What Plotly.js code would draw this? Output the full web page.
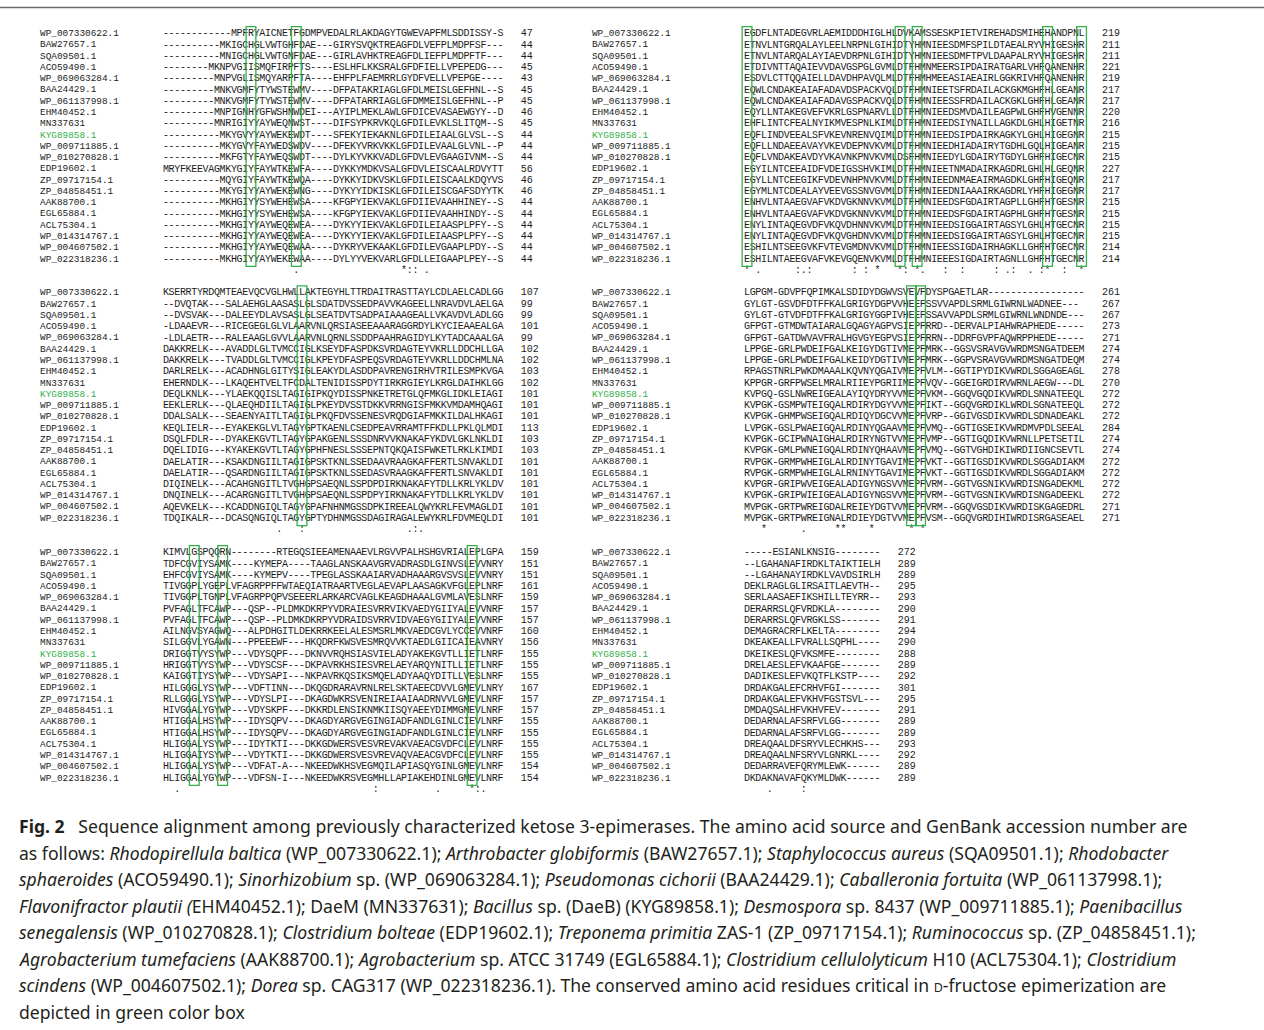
<!DOCTYPE html>
<html><head><meta charset="utf-8">
<script src="https://cdn.plot.ly/plotly-3.0.1.min.js"></script>
<style>html,body{margin:0;padding:0;background:#fff;} #chart{width:1264px;height:1030px;}</style>
</head><body><div id="chart"></div><script>
// ---------------- DATA ----------------
const names = ['WP_007330622.1','BAW27657.1','SQA09501.1','ACO59490.1','WP_069063284.1','BAA24429.1',
  'WP_061137998.1','EHM40452.1','MN337631','KYG89858.1','WP_009711885.1','WP_010270828.1','EDP19602.1',
  'ZP_09717154.1','ZP_04858451.1','AAK88700.1','EGL65884.1','ACL75304.1','WP_014314767.1','WP_004607502.1','WP_022318236.1'];
const highlightName = 'KYG89858.1';

// block 1 (top left)
const seq1 = [
'------------MPFRYAICNETFGDMPVEDALRLAKDAGYTGWEVAPFMLSDDISSY-S',
'----------MKIGCHGLVWTGHFDAE---GIRYSVQKTREAGFDLVEFPLMDPFSF---',
'----------MNIGCHGLVWTGNFDAE---GIRLAVHKTREAGFDLIEFPLMDPFTF---',
'--------MKNPVGIISMQFIRPFTS----ESLHFLKKSRALGFDFIELLVPEPEDG---',
'---------MNPVGLISMQYARPFTA----EHFPLFAEMRRLGYDFVELLVPEPGE----',
'---------MNKVGMFYTYWSTEWMV----DFPATAKRIAGLGFDLMEISLGEFHNL--S',
'---------MNKVGMFYTYWSTEWMV----DFPATARRIAGLGFDMMEISLGEFHNL--P',
'---------MNPIGNHYGFWSHNWDEI---AYIPLMEKLAWLGFDICEVASAEWGYY--D',
'---------MNRIGIYYAYWEQNWST----DIFSYPKRVKQLGFDILEVKLSLITQM--S',
'----------MKYGVYYAYWEKEWDT----SFEKYIEKAKNLGFDILEIAALGLVSL--S',
'----------MKYGVYFAYWEDSWDV----DFEKYVRKVKKLGFDILEVAALGLVNL--P',
'----------MKFGTYFAYWEQSWDT----DYLKYVKKVADLGFDVLEVGAAGIVNM--S',
'MRYFKEEVAGMKYGIYFAYWTKEWFA----DYKKYMDKVSALGFDVLEISCAALRDVYTT',
'----------MQYGIYFAYWTKEWQA----DYKKYIDKVSKLGFDILEISCAALKDQYVS',
'----------MKYGIYYAYWEKEWNG----DYKYYIDKISKLGFDILEISCGAFSDYYTK',
'----------MKHGIYYSYWEHEWSA----KFGPYIEKVAKLGFDIIEVAAHHINEY--S',
'----------MKHGIYYSYWEHEWSA----KFGPYIEKVAKLGFDIIEVAAHHINDY--S',
'----------MKHGIYYAYWEQEWEA----DYKYYIEKVAKLGFDILEIAASPLPFY--S',
'----------MKHGIYYAYWEQEWEA----DYKYYIEKVAKLGFDILEIAASPLPFY--S',
'----------MKHGIYYAYWEQEWAA----DYKRYVEKAAKLGFDILEVGAAPLPDY--S',
'----------MKHGIYYAYWEKEWAA----DYLYYVEKVARLGFDLLEIGAAPLPEY--S'];
const end1 = [47,44,44,45,43,45,45,46,45,44,44,44,56,46,46,44,44,44,44,44,44];
const box1 = [16, 24];
const consCols1 = [24, 43, 44, 45, 47];
const consMarks1 = ['.', '*', ':', ':', '.'];

// block 2 (middle left)
const seq2 = [
'KSERRTYRDQMTEAEVQCVGLHWLLAKTEGYHLTTRDAITRASTTAYLCDLAELCADLGG',
'--DVQTAK---SALAEHGLAASASLGLSDATDVSSEDPAVVKAGEELLNRAVDVLAELGA',
'--DVSVAK---DALEEYDLAVSASLGLSEATDVTSADPAIAAAGEALLVKAVDVLADLGG',
'-LDAAEVR---RICEGEGLGLVLAARVNLQRSIASEEAAARAGGRDYLKYCIEAAEALGA',
'-LDLAETR---RALEAAGLGVVLAARVNLQRNLSSDDPAAHRAGIDYLKYTADCAAALGA',
'DAKKRELK---AVADDLGLTVMCCIGLKSEYDFASPDKSVRDAGTEYVKRLLDDCHLLGA',
'DAKKRELK---TVADDLGLTVMCCIGLKPEYDFASPEQSVRDAGTEYVKRLLDDCHMLNA',
'DARLRELK---ACADHNGLGITYSIGLEAKYDLASDDPAVRENGIRHVTRILESMPKVGA',
'EHERNDLK---LKAQEHTVELTFCDALTENIDISSPDYTIRKRGIEYLKRGLDAIHKLGG',
'DEQLKNLK---YLAEKQQISLTAGIGIPKQYDISSPNKETRETGLQFMKGLIDKLEIAGI',
'EEKLERLK---QLAEQHDIILTAGIGLPKEYDVSSTDKKVRRNGISFMKKVMDAMHQAGI',
'DDALSALK---SEAENYAITLTAGIGLPKQFDVSSENESVRQDGIAFMKKILDALHKAGI',
'KEQLIELR---EYAKEKGLVLTAGYGPTKAENLCSEDPEAVRRAMTFFKDLLPKLQLMDI',
'DSQLFDLR---DYAKEKGVTLTAGYGPAKGENLSSSDNRVVKNAKAFYKDVLGKLNKLDI',
'DQELIDIG---KYAKEKGVTLTAGYGPHFNESLSSSEPNTQKQAISFWKETLRKLKIMDI',
'DAELATIR---KSAKDNGIILTAGIGPSKTKNLSSEDAAVRAAGKAFFERTLSNVAKLDI',
'DAELATIR---QSARDNGIILTAGIGPSKTKNLSSEDASVRAAGKAFFERTLSNVAKLDI',
'DIQINELK---ACAHGNGITLTVGHGPSAEQNLSSPDPDIRKNAKAFYTDLLKRLYKLDV',
'DNQINELK---ACARGNGITLTVGHGPSAEQNLSSPDPYIRKNAKAFYTDLLKRLYKLDV',
'AQEVKELK---KCADDNGIQLTAGYGPAFNHNMGSSDPKIREEALQWYKRLFEVMAGLDI',
'TDQIKALR---DCASQNGIQLTAGYGPTYDHNMGSSDAGIRAGALEWYKRLFDVMEQLDI'];
const end2 = [107,99,99,101,99,102,102,103,102,101,101,101,113,103,103,101,101,101,101,101,101];
const box2 = [25];
const consCols2 = [21, 25, 44, 45, 46];
const consMarks2 = ['.', ':', '.', ':', '.'];

// block 3 (bottom left)
const seq3 = [
'KIMVLGSPQQRN--------RTEGQSIEEAMENAAEVLRGVVPALHSHGVRIALEPLGPA',
'TDFCGVIYSAMK----KYMEPA----TAAGLANSKAAVGRVADRASDLGINVSLEVVNRY',
'EHFCGVIYSAMK----KYMEPV----TPEGLASSKAAIARVADHAAARGVSVSLEVVNRY',
'TIVGGPLYGEPLVFAGRPPFFWTAEQIATRAARTVEGLAEVAPLAASAGKVFGLEPLNRF',
'TIVGGPLTGNPLVFAGRPPQPVSEEERLARKARCVAGLKEAGDHAAALGVMLAVESLNRF',
'PVFAGLTFCAWP---QSP--PLDMKDKRPYVDRAIESVRRVIKVAEDYGIIYALEVVNRF',
'PVFAGLTFCAWP---QSP--PLDMKDKRPYVDRAIDSVRRVIDVAEGYGIIYALEVVNRF',
'AILNGVSYAGWQ---ALPDHGITLDEKRRKEELALESMSRLMKVAEDCGVLYCCEVVNRF',
'SILGGVLYGAWN---PPEEEWF---HKQDRFKWSVESMRQVVKTAEDLGIICAIEAVNRY',
'DRIGGTVYSYWP---VDYSQPF---DKNVVRQHSIASVIELADYAKEKGVTLLIETLNRF',
'HRIGGTVYSYWP---VDYSCSF---DKPAVRKHSIESVRELAEYARQYNITLLIETLNRF',
'KAIGGTIYSYWP---VDYSAPI---NKPAVRKQSIKSMQELADYAAQYDITLLVESLNRF',
'HILGGGLYSYWP---VDFTINN---DKQGDRARAVRNLRELSKTAEECDVVLGMEVLNRY',
'RLLGGGLYSYWP---VDYSLPI---DKAGDWKRSVENIREIAAIAADRNVVLGMEVLNRF',
'HIVGGALYGYWP---VDYSKPF---DKKRDLENSIKNMKIISQYAEEYDIMMGMEVLNRF',
'HTIGGALHSYWP---IDYSQPV---DKAGDYARGVEGINGIADFANDLGINLCIEVLNRF',
'HTIGGALHSYWP---IDYSQPV---DKAGDYARGVEGINGIADFANDLGINLCIEVLNRF',
'HLIGGALYSYWP---IDYTKTI---DKKGDWERSVESVREVAKVAEACGVDFCLEVLNRF',
'HLIGGAIYSYWP---VDYTKTI---DKKGDWERSVESVREVAQVAEACGVDFCLEVLNRF',
'HLIGGALYSYWP---VDFAT-A---NKEEDWKHSVEGMQILAPIASQYGINLGMEVLNRF',
'HLIGGALYGYWP---VDFSN-I---NKEEDWKRSVEGMHLLAPIAKEHDINLGMEVLNRF'];
const end3 = [159,151,151,161,159,157,157,160,156,155,155,155,167,157,157,155,155,155,155,154,154];
const box3 = [6, 11, 55];
const consCols3 = [3, 38, 49, 55, 56, 57];
const consMarks3 = ['.', ':', '.', '*', ':', '.'];

// block 4 (top right)
const seq4 = [
'EGDFLNTADEGVRLAEMIDDDHIGLHLDVKAMSSESKPIETVIREHADSMIHEHANDPNL',
'ETNVLNTGRQALAYLEELNRPNLGIHIDTYHMNIEESDMFSPILDTAEALRYVHIGESHR',
'ETNVLNTARQALAYIAEVDRPNLGIHIDTYHMNIEESDMFTPVLDAAPALRYVHIGESHR',
'ETDIVNTTAQAIEVVDAVGSPGLGVMLDTFHMNMEERSIPDAIRATGARLVHFQANENHR',
'ESDVLCTTQQAIELLDAVDHPAVQLMLDTFHMHMEEASIAEAIRLGGKRIVHFQANENHR',
'EQWLCNDAKEAIAFADAVDSPACKVQLDTFHMNIEETSFRDAILACKGKMGHFHLGEANR',
'EQWLCNDAKEAIAFADAVGSPACKVQLDTFHMNIEESSFRDAILACKGKLGHFHLGEANR',
'EQYLLNTAKEGVEFVKRLGSPNARVLLDTFHMNIEEDSMVDAILEAGPWLGHFHVGENNR',
'EHFLINTCFEALNYIKMVESPNLKIMLDTFHMNIEEDSIYNAILLAGKDLGHLHIGETNR',
'EQFLINDVEEALSFVKEVNRENVQIMLDTFHMNIEEDSIPDAIRKAGKYLGHLHIGEGNR',
'EQFLLNDAEEAVAYVKEVDEPNVKVMLDTFHMNIEEDHIADAIRYTGDHLGQLHIGEANR',
'EQFLVNDAKEAVDYVKAVNKPNVKVMLDSFHMNIEEDYLGDAIRYTGDYLGHFHIGECNR',
'EGYILNTCEEAIDFVDEIGSSHVKIMLDTFHMNIEETNMADAIRKAGDRLGHLHLGEQNR',
'EGYLLNTCEEGIKFVDEVNHPNVKVMLDTFHMNIEEDNMAEAIRMAGDKLGHFHIGEQNR',
'EGYMLNTCDEALAYVEEVGSSNVGVMLDTFHMNIEEDNIAAAIRKAGDRLYHFHIGEGNR',
'ENHVLNTAAEGVAFVKDVGKNNVKVMLDTFHMNIEEDSFGDAIRTAGPLLGHFHTGESNR',
'ENHVLNTAAEGVAFVKDVGKNNVKVMLDTFHMNIEEDSFGDAIRTAGPHLGHFHTGESNR',
'ENYLINTAQEGVDFVKQVDHNNVKVMLDTFHMNIEEDSIGGAIRTAGSYLGHLHTGECNR',
'ENYLINTAQEGVDFVKQVGHDNVKVMLDTFHMNIEEDSIGGAIRTAGSYLGHLHTGECNR',
'ESHILNTSEEGVKFVTEVGMDNVKVMLDTFHMNIEESSIGDAIRHAGKLLGHFHTGECNR',
'ESHILNTAEEGVAFVKEVGQENVKVMLDTFHMNIEEESIGDAIRTAGNLLGHFHTGECNR'];
const end4 = [219,211,211,221,219,217,217,220,216,215,215,215,227,217,217,215,215,215,215,214,214];
const box4 = [1, 28, 31, 54, 60];
const consCols4 = [1, 3, 10, 11, 12, 20, 22, 24, 28, 29, 31, 32, 36, 39, 45, 47, 48, 51, 53, 54, 57, 60];
const consMarks4 = ['*', '.', ':', '.', ':', ':', ':', '*', '*', ':', '*', '.', ':', ':', ':', '.', ':', '.', ':', '*', ':', '*'];

// block 5 (middle right)
const seq5 = [
'LGPGM-GDVPFQPIMKALSDIDYDGWVSVEVFDYSPGAETLAR-----------------',
'GYLGT-GSVDFDTFFKALGRIGYDGPVVHEEFSSVVAPDLSRMLGIWRNLWADNEE---',
'GYLGT-GTVDFDTFFKALGRIGYGGPIVHEEFSSAVVAPDLSRMLGIWRNLWNDNDE---',
'GFPGT-GTMDWTAIARALGQAGYAGPVSIEPFRRD--DERVALPIAHWRAPHEDE-----',
'GFPGT-GATDWVAVFRALHGVGYEGPVSIEPFRRN--DDRFGVPFAQWRPPHEDE-----',
'LPPGE-GRLPWDEIFGALKEIGYDGTIVMEPFMRK--GGSVSRAVGVWRDMSNGATDEEM',
'LPPGE-GRLPWDEIFGALKEIDYDGTIVMEPFMRK--GGPVSRAVGVWRDMSNGATDEQM',
'RPAGSTNRLPWKDMAAALKQVNYQGAIVMEPFVLM--GGTIPYDIKVWRDLSGGAGEAGL',
'KPPGR-GRFPWSELMRALRIIEYPGRIIMEPFVQV--GGEIGRDIRVWRNLAEGW---DL',
'KVPGQ-GSLNWREIGEALAYIQYDRYVVMEPFVKM--GGQVGQDIKVWRDLSNNATEEQL',
'KVPGK-GSMPWTEIGQALRDIRYDGYVVMEPFIKT--GGQVGRDIKLWRDLSGNATEEQL',
'KVPGK-GHMPWSEIGQALRDIQYDGCVVMEPFVRP--GGIVGSDIKVWRDLSDNADEAKL',
'LVPGK-GSLPWAEIGQALRDINYQGAAVMEPFVMQ--GGTIGSEIKVWRDMVPDLSEEAL',
'KVPGK-GCIPWNAIGHALRDIRYNGTVVMEPFVMP--GGTIGQDIKVWRNLLPETSETIL',
'KVPGK-GMLPWNEIGQALRDINYQHAAVMEPFVMQ--GGTVGHDIKIWRDIIGNCSEVTL',
'RVPGK-GRMPWHEIGLALRDINYTGAVIMEPFVKT--GGTIGSDIKVWRDLSGGADIAKM',
'RVPGK-GRMPWHEIGLALRNINYTGAVIMEPFVKT--GGTIGSDIKVWRDLSGGADIAKM',
'KVPGR-GRIPWVEIGEALADIGYNGSVVMEPFVRM--GGTVGSNIKVWRDISNGADEKML',
'KVPGK-GRIPWIEIGEALADIGYNGSVVMEPFVRM--GGTVGSNIKVWRDISNGADEEKL',
'MVPGK-GRTPWREIGDALREIEYDGTVVMEPFVRM--GGQVGSDIKVWRDISKGAGEDRL',
'MVPGK-GRTPWREIGNALRDIEYDGTVVMEPFVSM--GGQVGRDIHIWRDISRGASEAEL'];
const end5 = [261,267,267,273,271,274,274,278,270,272,272,272,284,274,274,272,272,272,272,271,271];
const box5 = [30, 31.6];
const consCols5 = [4, 11, 17, 18, 23, 30, 32];
const consMarks5 = ['*', '.', '*', '*', '*', '*', '*'];

// block 6 (bottom right)
const seq6 = [
'-----ESIANLKNSIG--------',
'--LGAHANAFIRDKLTAIKTIELH',
'--LGAHANAYIRDKLVAVDSIRLH',
'DEKLRAGLGLIRSAITLAEVTH--',
'SERLAASAEFIKSHILLTEYRR--',
'DERARRSLQFVRDKLA--------',
'DERARRSLQFVRGKLSS-------',
'DEMAGRACRFLKELTA--------',
'DKEAKEALLFVRALLSQPHL----',
'DKEIKESLQFVKSMFE--------',
'DRELAESLEFVKAAFGE-------',
'DADIKESLEFVKQTFLKSTP----',
'DRDAKGALEFCRHVFGI-------',
'DRDAKGALEFVKHVFGSTSVL---',
'DMDAQSALHFVKHVFEV-------',
'DEDARNALAFSRFVLGG-------',
'DEDARNALAFSRFVLGG-------',
'DREAQAALDFSRYVLECHKHS---',
'DREAQAALNFSRYVLGNRKL----',
'DEDARRAVEFQRYMLEWK------',
'DKDAKNAVAFQKYMLDWK------'];
const end6 = [272,289,289,295,293,290,291,294,290,288,289,292,301,295,291,289,289,293,292,289,289];
const box6 = [];
const consCols6 = [5, 11];
const consMarks6 = ['.', ':'];

const captionLines = [
 '<b>Fig. 2</b>&nbsp;&nbsp;&nbsp;Sequence alignment among previously characterized ketose 3-epimerases. The amino acid source and GenBank accession number are',
 'as follows: <i>Rhodopirellula baltica</i> (WP_007330622.1); <i>Arthrobacter globiformis</i> (BAW27657.1); <i>Staphylococcus aureus</i> (SQA09501.1); <i>Rhodobacter</i>',
 '<i>sphaeroides</i> (ACO59490.1); <i>Sinorhizobium</i> sp. (WP_069063284.1); <i>Pseudomonas cichorii</i> (BAA24429.1); <i>Caballeronia fortuita</i> (WP_061137998.1);',
 '<i>Flavonifractor plautii (</i>EHM40452.1); DaeM (MN337631); <i>Bacillus</i> sp. (DaeB) (KYG89858.1); <i>Desmospora</i> sp. 8437 (WP_009711885.1); <i>Paenibacillus</i>',
 '<i>senegalensis</i> (WP_010270828.1); <i>Clostridium bolteae</i> (EDP19602.1); <i>Treponema primitia</i> ZAS-1 (ZP_09717154.1); <i>Ruminococcus</i> sp. (ZP_04858451.1);',
 '<i>Agrobacterium tumefaciens</i> (AAK88700.1); <i>Agrobacterium</i> sp. ATCC 31749 (EGL65884.1); <i>Clostridium cellulolyticum</i> H10 (ACL75304.1); <i>Clostridium</i>',
 '<i>scindens</i> (WP_004607502.1); <i>Dorea</i> sp. CAG317 (WP_022318236.1). The conserved amino acid residues critical in <span style="font-size:12.5px">D</span>-fructose epimerization are',
 'depicted in green color box'];

// ---------------- LAYOUT CONSTANTS ----------------
const W = 1264, H = 1030;
const CW = 5.67;      // px per alignment column
const RH = 11.27;     // px per row
const GREEN = '#33b04a';
const TXT = '#1c1c1c';
const MONO = 'Liberation Mono, DejaVu Sans Mono, monospace';
const blocks = [
  {seq: seq1, end: end1, box: box1, cc: consCols1, cm: consMarks1, x0: 163.1, y0: 33.8, nameOff: -21.7},
  {seq: seq2, end: end2, box: box2, cc: consCols2, cm: consMarks2, x0: 163.1, y0: 293.0, nameOff: -21.7},
  {seq: seq3, end: end3, box: box3, cc: consCols3, cm: consMarks3, x0: 163.1, y0: 552.8, nameOff: -21.7},
  {seq: seq4, end: end4, box: box4, cc: consCols4, cm: consMarks4, x0: 744.2, y0: 33.8, nameOff: -26.85},
  {seq: seq5, end: end5, box: box5, cc: consCols5, cm: consMarks5, x0: 744.2, y0: 293.0, nameOff: -26.85},
  {seq: seq6, end: end6, box: box6, cc: consCols6, cm: consMarks6, x0: 744.2, y0: 552.8, nameOff: -26.85}
];
const XMIN = -28, XMAX = 66, YMIN = 0, YMAX = 23;

const traces = [];
const layout = {
  width: W, height: H, margin: {l:0, r:0, t:0, b:0},
  paper_bgcolor: '#fff', plot_bgcolor: 'rgba(0,0,0,0)', showlegend: false,
  shapes: [], annotations: [], hovermode: false
};

blocks.forEach((b, i) => {
  const xa = i === 0 ? 'x' : 'x' + (i + 1);
  const ya = i === 0 ? 'y' : 'y' + (i + 1);
  const xk = i === 0 ? 'xaxis' : 'xaxis' + (i + 1);
  const yk = i === 0 ? 'yaxis' : 'yaxis' + (i + 1);
  layout[xk] = {domain: [(b.x0 + XMIN*CW)/W, (b.x0 + XMAX*CW)/W], range: [XMIN, XMAX],
    visible: false, fixedrange: true, anchor: ya};
  layout[yk] = {domain: [1 - (b.y0 + (YMAX-1)*RH)/H, 1 - (b.y0 + (YMIN-1)*RH)/H], range: [YMAX, YMIN],
    visible: false, fixedrange: true, anchor: xa};

  // residues
  const sx = [], sy = [], st = [];
  b.seq.forEach((s, r) => {
    for (let c = 0; c < s.length; c++) { sx.push(c + 0.5); sy.push(r + 1); st.push(s[c]); }
  });
  traces.push({type: 'scatter', mode: 'text', x: sx, y: sy, text: st, xaxis: xa, yaxis: ya,
    textposition: 'middle center', cliponaxis: false, hoverinfo: 'skip',
    textfont: {family: MONO, size: 10, color: TXT}});
  // names
  traces.push({type: 'scatter', mode: 'text', x: names.map(() => b.nameOff), y: names.map((n, r) => r + 1),
    text: names, xaxis: xa, yaxis: ya, textposition: 'middle right', cliponaxis: false, hoverinfo: 'skip',
    textfont: {family: MONO, size: 9.4, color: names.map(n => n === highlightName ? GREEN : TXT)}});
  // end numbers
  const len = b.seq[0].length;
  traces.push({type: 'scatter', mode: 'text', x: b.end.map(() => len + 3.1), y: b.end.map((v, r) => r + 1),
    text: b.end.map(String), xaxis: xa, yaxis: ya, textposition: 'middle right', cliponaxis: false, hoverinfo: 'skip',
    textfont: {family: MONO, size: 10, color: TXT}});
  // consensus
  traces.push({type: 'scatter', mode: 'text', x: b.cc.map(c => c - 0.5), y: b.cc.map(() => names.length + 1),
    text: b.cm, xaxis: xa, yaxis: ya, textposition: 'middle center', cliponaxis: false, hoverinfo: 'skip',
    textfont: {family: MONO, size: 10, color: TXT}});
  // green boxes around conserved columns
  b.box.forEach(c => {
    layout.shapes.push({type: 'rect', xref: xa, yref: ya, x0: c - 1 - 0.36, x1: c + 0.36,
      y0: 0.36, y1: names.length + 0.64, line: {color: GREEN, width: 1.3}, fillcolor: 'rgba(0,0,0,0)'});
  });
});

// top rule
layout.shapes.push({type: 'line', xref: 'paper', yref: 'paper', x0: 0, x1: 1, y0: 1 - 7.5/H, y1: 1 - 7.5/H,
  line: {color: '#6b6b6b', width: 1.6}});

// caption
captionLines.forEach((t, k) => {
  layout.annotations.push({xref: 'paper', yref: 'paper', x: 17/W, y: 1 - (826 + k*26.5)/H,
    xanchor: 'left', yanchor: 'middle', showarrow: false, align: 'left', text: t,
    font: {family: 'Noto Sans, Open Sans, sans-serif', size: 17.6, color: '#231f20'}});
});

Plotly.newPlot('chart', traces, layout, {staticPlot: true, displayModeBar: false});
</script></body></html>
